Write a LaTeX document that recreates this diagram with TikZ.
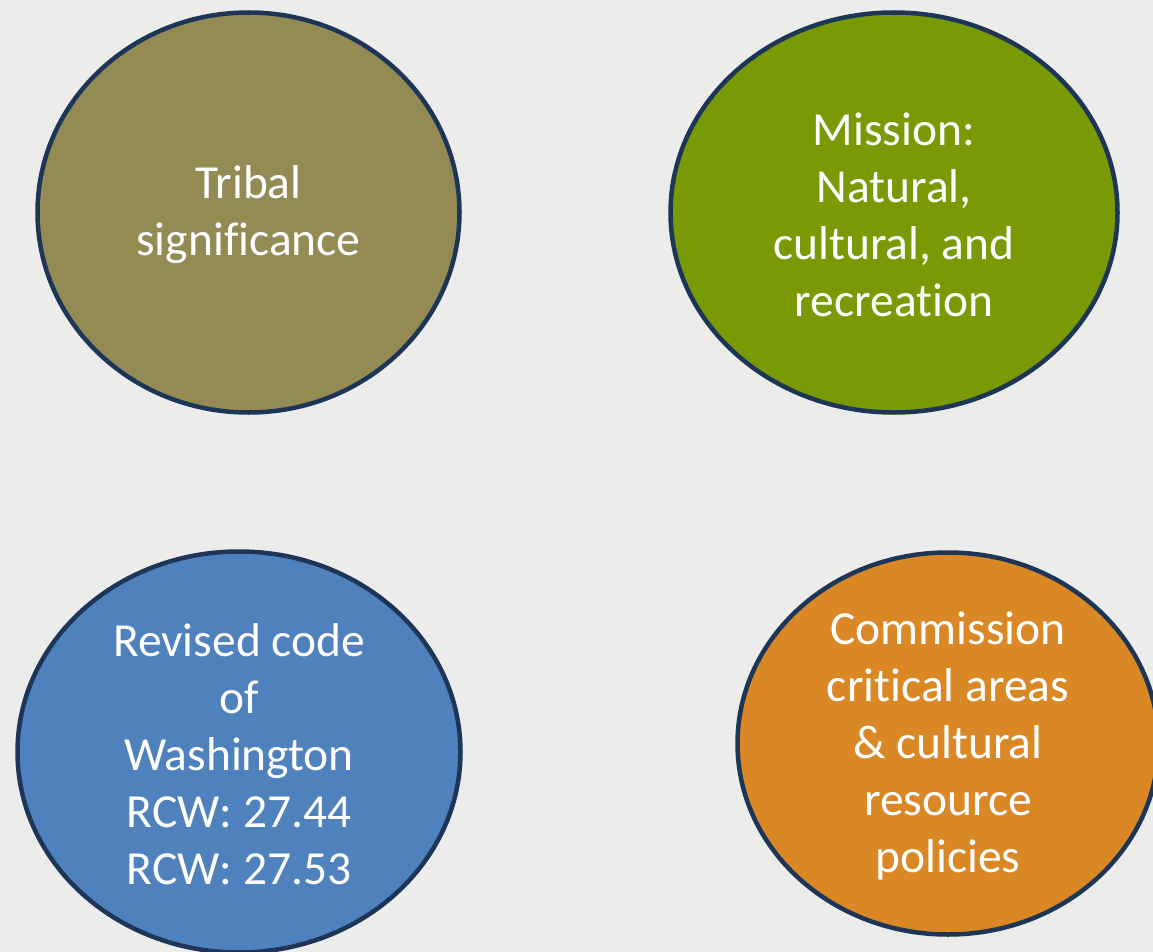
\documentclass[tikz,border=0pt]{standalone}
\usepackage{fontspec}
\setmainfont{Carlito}[Ligatures=NoCommon]
\usetikzlibrary{shapes.geometric}

\definecolor{pagegray}{HTML}{ECECEA}
\definecolor{rimblue}{HTML}{1D3657}
\definecolor{olivefill}{HTML}{948A54}
\definecolor{greenfill}{HTML}{799A05}
\definecolor{bluefill}{HTML}{4F81BD}
\definecolor{orangefill}{HTML}{DA8826}

\tikzset{
  blob/.style={ellipse, draw=rimblue, line width=4.5pt, inner sep=0pt},
  blobtext/.style={text=white, align=center, inner sep=0pt,
    font=\fontsize{47.5}{57}\selectfont}
}

\begin{document}
\begin{tikzpicture}[x=1pt,y=-1pt]
    % Background
    \fill[pagegray] (0,0) rectangle (1153,952);
    \useasboundingbox (0,0) rectangle (1153,952);

    % Draw the four ellipses
    \node[blob, fill=olivefill, minimum width=422pt, minimum height=400pt] (tribal) at (248.5,212.5) {};
    \node[blob, fill=greenfill, minimum width=447pt, minimum height=400pt] (mission) at (894,212.5) {};
    \node[blob, fill=bluefill, minimum width=443pt, minimum height=401pt] (rcw) at (239,752) {};
    \node[blob, fill=orangefill, minimum width=421pt, minimum height=382pt] (commission) at (948,743.5) {};

    % Add labels
    \node[blobtext, yshift=-2pt] (tribal text) at (tribal.center) {Tribal\\significance};
    \node[blobtext, yshift=-2pt] (mission text) at (mission.center) {Mission:\\Natural,\\cultural, and\\recreation};
    \node[blobtext, yshift=-2pt] (rcw text) at (rcw.center) {Revised code\\of\\Washington\\RCW: 27.44\\RCW: 27.53};
    \node[blobtext, yshift=-2pt] (commission text) at (commission.center) {Commission\\critical areas\\\& cultural\\resource\\policies};
\end{tikzpicture}
\end{document}
